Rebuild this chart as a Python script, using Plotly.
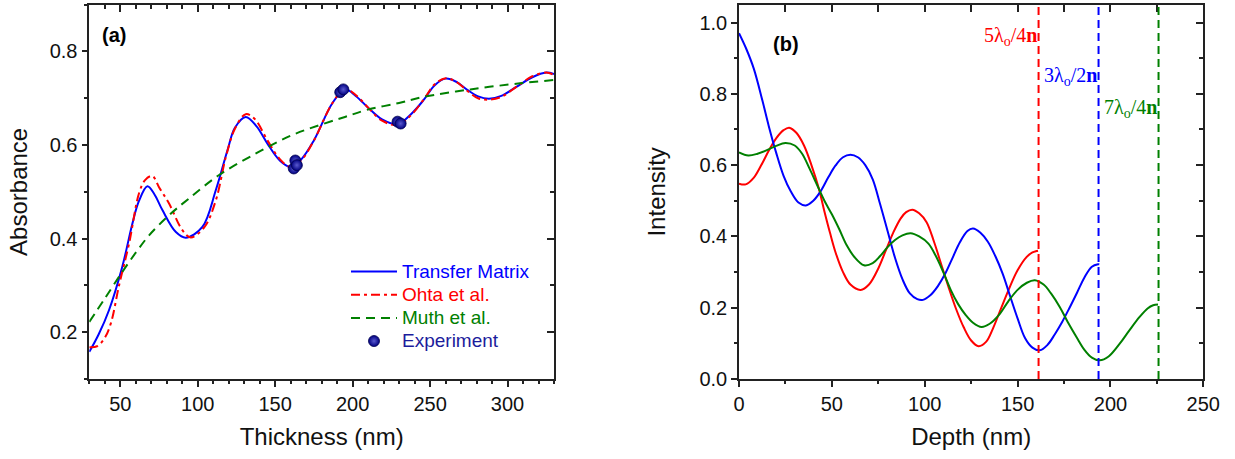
import plotly.graph_objects as go

# ---------------- Panel (a): Absorbance vs thickness ----------------
tm_thickness = [30, 36, 42.7, 51.3, 57.8, 62, 67.5, 72, 77.2, 85.9, 92.3, 103, 111.7, 119.2, 124, 131,
                138, 145, 153, 160, 167, 175, 187, 195, 202, 210, 219, 229, 238, 246, 253, 260, 267,
                274, 281, 288, 296, 306, 316, 325, 330]
tm_absorbance = [0.158, 0.195, 0.247, 0.34, 0.432, 0.48, 0.512, 0.495, 0.461, 0.414, 0.402, 0.425,
                 0.504, 0.589, 0.637, 0.66, 0.64, 0.603, 0.567, 0.553, 0.57, 0.61, 0.69, 0.719, 0.705,
                 0.68, 0.655, 0.645, 0.667, 0.697, 0.728, 0.742, 0.735, 0.718, 0.704, 0.699, 0.705,
                 0.725, 0.745, 0.755, 0.752]

ohta_thickness = [30, 35, 40, 44, 49.2, 55.7, 62.1, 66, 70.7, 75, 81.5, 90.1, 95.5, 104.4, 111.7,
                  118.2, 124, 131, 137, 145, 153, 160, 167, 175, 187, 195, 202, 210, 219, 229, 238,
                  246, 253, 260, 267, 274, 281, 288, 296, 306, 316, 325, 330]
ohta_absorbance = [0.168, 0.17, 0.188, 0.22, 0.3, 0.39, 0.497, 0.525, 0.534, 0.51, 0.475, 0.418,
                   0.4025, 0.425, 0.482, 0.575, 0.635, 0.666, 0.655, 0.61, 0.57, 0.553, 0.568, 0.61,
                   0.69, 0.72, 0.707, 0.68, 0.652, 0.643, 0.665, 0.698, 0.73, 0.743, 0.735, 0.716,
                   0.7, 0.697, 0.703, 0.725, 0.747, 0.755, 0.75]

muth_thickness = [30, 40, 51.3, 60, 68.6, 81.5, 94.4, 113.8, 137.6, 160, 179, 195, 209, 230, 246,
                  276, 308, 330]
muth_absorbance = [0.222, 0.272, 0.329, 0.37, 0.407, 0.45, 0.486, 0.536, 0.582, 0.62, 0.643, 0.66,
                   0.675, 0.69, 0.703, 0.719, 0.732, 0.739]

exp_thickness = [162, 163, 164, 192, 194, 229, 231]
exp_absorbance = [0.550, 0.567, 0.557, 0.713, 0.719, 0.650, 0.646]

# ---------------- Panel (b): Intensity vs depth ----------------
blue_depth = [0, 4, 8, 12.6, 16, 20, 24, 28, 32, 36, 40, 44, 48, 52, 56, 60, 64, 68, 72, 76, 80, 84,
              88, 92, 96, 99, 103, 107, 111, 115, 119, 123, 126, 130, 134, 138, 142, 146, 150, 154,
              158, 162, 166, 170, 174, 178, 182, 186, 190, 193.3, 194]
blue_intensity = [0.97, 0.925, 0.87, 0.781, 0.71, 0.635, 0.57, 0.525, 0.495, 0.487, 0.5, 0.527, 0.565,
                  0.599, 0.622, 0.629, 0.622, 0.6, 0.56, 0.49, 0.415, 0.34, 0.28, 0.24, 0.224, 0.222,
                  0.235, 0.26, 0.295, 0.34, 0.384, 0.415, 0.422, 0.41, 0.385, 0.345, 0.295, 0.232,
                  0.17, 0.115, 0.088, 0.0805, 0.095, 0.125, 0.16, 0.2, 0.242, 0.285, 0.315, 0.322,
                  0.322]

red_depth = [0, 3.6, 8, 12, 16, 20, 24, 27, 31, 35, 39, 43, 46, 49, 52, 56, 60, 65.5, 70, 75, 79, 83,
             87, 90, 93.3, 97, 101, 105, 109, 113, 117, 121, 125, 129, 133, 137, 141, 145.8, 150,
             154.8, 158, 160.2, 161]
red_intensity = [0.548, 0.546, 0.565, 0.6, 0.64, 0.675, 0.698, 0.705, 0.69, 0.655, 0.6, 0.534, 0.47,
                 0.41, 0.355, 0.3, 0.265, 0.25, 0.265, 0.31, 0.36, 0.41, 0.45, 0.468, 0.475, 0.465,
                 0.44, 0.385, 0.32, 0.255, 0.195, 0.145, 0.108, 0.092, 0.104, 0.145, 0.197, 0.258,
                 0.305, 0.342, 0.355, 0.359, 0.36]

green_depth = [0, 5, 10, 15, 20, 25, 30, 34, 38, 42, 46, 50, 54, 58, 62, 67.3, 72, 76, 80, 84, 88,
               92.4, 97, 102, 106, 110, 114, 118, 122, 126, 130.6, 135, 140, 145, 150, 155, 159.3,
               164, 168, 172.7, 177, 181.7, 186, 190, 194.2, 199, 205, 210, 215.7, 220, 223, 225.6]
green_intensity = [0.636, 0.627, 0.632, 0.642, 0.654, 0.662, 0.655, 0.632, 0.59, 0.545, 0.5, 0.462,
                   0.42, 0.375, 0.343, 0.319, 0.325, 0.345, 0.37, 0.39, 0.403, 0.409, 0.4, 0.38,
                   0.345, 0.3, 0.25, 0.21, 0.18, 0.158, 0.146, 0.155, 0.18, 0.218, 0.25, 0.27, 0.277,
                   0.265, 0.24, 0.202, 0.16, 0.118, 0.082, 0.06, 0.0524, 0.063, 0.099, 0.135, 0.174,
                   0.198, 0.207, 0.209]

cutoff_depths = [161.3, 193.6, 225.9]
cutoff_labels = ["5λ<sub>o</sub>/4<b>n</b>", "3λ<sub>o</sub>/2<b>n</b>", "7λ<sub>o</sub>/4<b>n</b>"]

BLUE, RED, GREEN, NAVY = "#0000ff", "#ff0000", "#008000", "#000080"
AXC = "#222222"
FONT = "Arial, Liberation Sans, sans-serif"
SERIF = "Times New Roman, Liberation Serif, serif"
LEG = "<span style='color:{c};font-size:19px'>{t}</span>"

fig = go.Figure()

fig.add_trace(go.Scatter(x=tm_thickness, y=tm_absorbance, mode="lines", line_shape="spline",
                         line=dict(color=BLUE, width=2),
                         name=LEG.format(c=BLUE, t="Transfer Matrix"), xaxis="x", yaxis="y"))
fig.add_trace(go.Scatter(x=ohta_thickness, y=ohta_absorbance, mode="lines", line_shape="spline",
                         line=dict(color=RED, width=2, dash="9px,4px,3px,4px"),
                         name=LEG.format(c=RED, t="Ohta et al."), xaxis="x", yaxis="y"))
fig.add_trace(go.Scatter(x=muth_thickness, y=muth_absorbance, mode="lines", line_shape="spline",
                         line=dict(color=GREEN, width=2, dash="9px,6px"),
                         name=LEG.format(c=GREEN, t="Muth et al."), xaxis="x", yaxis="y"))
fig.add_trace(go.Scatter(x=exp_thickness, y=exp_absorbance, mode="markers",
                         marker=dict(size=11, color=NAVY, line=dict(color="#000050", width=0.8),
                                     gradient=dict(type="radial", color="#5a5ad0")),
                         name=LEG.format(c="#1c1c9c", t="Experiment"), xaxis="x", yaxis="y"))

for d, c, yv in [(red_depth, RED, red_intensity), (blue_depth, BLUE, blue_intensity),
                 (green_depth, GREEN, green_intensity)]:
    fig.add_trace(go.Scatter(x=d, y=yv, mode="lines", line_shape="spline",
                             line=dict(color=c, width=2), showlegend=False, xaxis="x2", yaxis="y2"))

# empty traces so that the mirrored (inside-tick) frame axes get drawn
for xa, ya in [("x3", "y3"), ("x4", "y4")]:
    fig.add_trace(go.Scatter(x=[], y=[], mode="lines", showlegend=False, hoverinfo="skip",
                             xaxis=xa, yaxis=ya))

line_colors = [RED, BLUE, GREEN]
label_y = [0.962, 0.848, 0.76]
for depth, col, lab, ly in zip(cutoff_depths, line_colors, cutoff_labels, label_y):
    fig.add_shape(type="line", xref="x2", yref="y2 domain", x0=depth, x1=depth, y0=0, y1=1,
                  line=dict(color=col, width=2, dash="8px,5px"))
    fig.add_annotation(xref="x2", yref="y2", x=depth, y=ly, xanchor="right", yanchor="middle",
                       text=lab, showarrow=False, font=dict(family=SERIF, size=20, color=col))

fig.add_annotation(xref="paper", yref="paper", x=100 / 1235, y=1 - 35.5 / 459, xanchor="left",
                   yanchor="middle", text="<b>(a)</b>", showarrow=False,
                   font=dict(family=FONT, size=20, color="black"))
fig.add_annotation(xref="paper", yref="paper", x=771 / 1235, y=1 - 44 / 459, xanchor="left",
                   yanchor="middle", text="<b>(b)</b>", showarrow=False,
                   font=dict(family=FONT, size=20, color="black"))

dom_y = [1 - 379 / 459, 1 - 4.7 / 459]
dom_a = [89.3 / 1235, 554 / 1235]
dom_b = [739 / 1235, 1203.3 / 1235]

base = dict(showgrid=False, zeroline=False, showline=True, linewidth=1.6, linecolor=AXC, mirror=True,
            ticks="outside", tickwidth=1.5, tickcolor=AXC, ticklen=6, automargin=False,
            tickfont=dict(family=FONT, size=20, color="#111"),
            title_font=dict(family=FONT, size=24, color="#111"))
inside = dict(showgrid=False, zeroline=False, showline=False, showticklabels=False, automargin=False,
              ticks="inside", tickwidth=1.5, tickcolor=AXC, ticklen=7)

fig.update_layout(
    width=1235, height=459, margin=dict(l=0, r=0, t=0, b=0),
    paper_bgcolor="white", plot_bgcolor="white",
    font=dict(family=FONT, color="#111"),
    xaxis=dict(base, domain=dom_a, anchor="y", range=[30, 330], tick0=50, dtick=50,
               minor=dict(dtick=10, ticks="outside", ticklen=3.5, tickwidth=1.5, tickcolor=AXC),
               title=dict(text="Thickness (nm)", standoff=14)),
    yaxis=dict(base, domain=dom_y, anchor="x", range=[0.1, 0.9], tick0=0.2, dtick=0.2,
               tickformat=".1f",
               minor=dict(dtick=0.1, ticks="outside", ticklen=3.5, tickwidth=1.5, tickcolor=AXC),
               title=dict(text="Absorbance", standoff=15)),
    xaxis3=dict(inside, overlaying="x", anchor="y3", side="top", range=[30, 330], tick0=50, dtick=50,
                minor=dict(dtick=10, ticks="inside", ticklen=4.5, tickwidth=1.5, tickcolor=AXC)),
    yaxis3=dict(inside, overlaying="y", anchor="x3", side="right", range=[0.1, 0.9], tick0=0.2,
                dtick=0.2,
                minor=dict(dtick=0.1, ticks="inside", ticklen=4.5, tickwidth=1.5, tickcolor=AXC)),
    xaxis2=dict(base, domain=dom_b, anchor="y2", range=[0, 250], tick0=0, dtick=50,
                minor=dict(dtick=25, ticks="outside", ticklen=3.5, tickwidth=1.5, tickcolor=AXC),
                title=dict(text="Depth (nm)", standoff=14)),
    yaxis2=dict(base, domain=dom_y, anchor="x2", range=[0, 1.05], tick0=0, dtick=0.2, tickformat=".1f",
                minor=dict(dtick=0.1, ticks="outside", ticklen=3.5, tickwidth=1.5, tickcolor=AXC),
                title=dict(text="Intensity", standoff=27)),
    xaxis4=dict(inside, overlaying="x2", anchor="y4", side="top", range=[0, 250], tick0=0, dtick=50,
                minor=dict(dtick=25, ticks="inside", ticklen=7, tickwidth=1.5, tickcolor=AXC)),
    yaxis4=dict(inside, overlaying="y2", anchor="x4", side="right", range=[0, 1.05], tick0=0, dtick=0.2,
                minor=dict(dtick=0.1, ticks="inside", ticklen=4.5, tickwidth=1.5, tickcolor=AXC)),
    legend=dict(x=346 / 1235, y=1 - 255 / 459, xanchor="left", yanchor="top",
                bgcolor="rgba(0,0,0,0)", font=dict(family=FONT, size=15.5), tracegroupgap=0,
                itemwidth=46),
)

fig.write_html("out.html")
